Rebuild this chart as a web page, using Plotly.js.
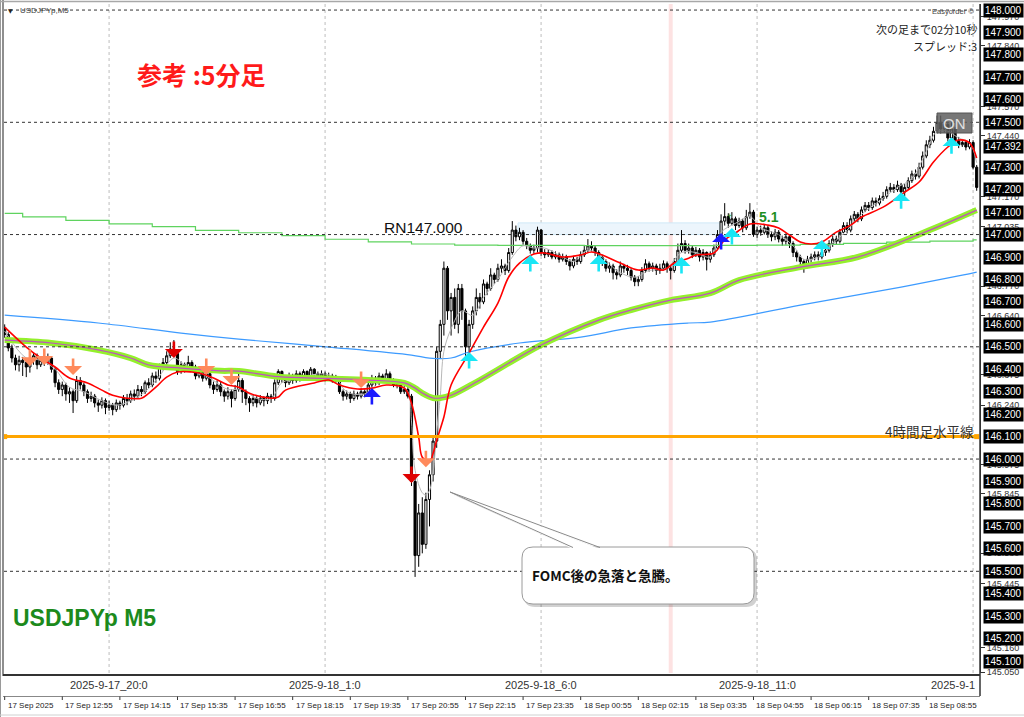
<!DOCTYPE html>
<html><head><meta charset="utf-8">
<script src="https://cdn.plot.ly/plotly-3.0.1.min.js"></script>
<style>html,body{margin:0;padding:0;background:#fff;}#c{width:1024px;height:717px;}</style>
</head><body><div id="c"></div>
<script>
// ---------- DATA ----------
const opens = [
146.585,146.555,146.495,146.450,146.420,146.440,146.430,146.410,146.440,146.460,
146.420,146.440,146.430,146.450,146.400,146.340,146.310,146.330,146.290,146.300,
146.260,146.350,146.330,146.300,146.270,146.280,146.250,146.240,146.260,146.230,
146.240,146.220,146.250,146.240,146.270,146.260,146.290,146.280,146.310,146.300,
146.340,146.330,146.370,146.360,146.410,146.430,146.460,146.490,146.470,146.390,
146.420,146.400,146.430,146.410,146.370,146.390,146.360,146.380,146.330,146.310,
146.330,146.300,146.280,146.300,146.270,146.310,146.350,146.300,146.270,146.250,
146.270,146.250,146.270,146.260,146.280,146.270,146.340,146.390,146.360,146.340,
146.370,146.350,146.380,146.360,146.390,146.370,146.400,146.380,146.370,146.380,
146.360,146.370,146.350,146.360,146.300,146.280,146.290,146.270,146.290,146.280,
146.300,146.290,146.330,146.360,146.340,146.370,146.350,146.380,146.350,146.330,
146.340,146.300,146.310,146.280,145.900,145.570,145.760,145.620,145.820,145.930,
146.080,146.480,146.600,146.850,146.660,146.720,146.600,146.760,146.660,146.500,
146.600,146.660,146.720,146.700,146.780,146.760,146.820,146.800,146.850,146.860,
146.840,146.920,147.020,146.990,147.010,146.970,146.950,146.930,146.940,147.020,
146.920,146.910,146.920,146.900,146.910,146.890,146.900,146.880,146.860,146.890,
146.880,146.910,146.930,146.950,146.940,146.920,146.900,146.880,146.850,146.860,
146.830,146.820,146.860,146.850,146.840,146.810,146.790,146.800,146.840,146.870,
146.850,146.860,146.840,146.850,146.870,146.850,146.840,146.880,146.930,146.960,
146.930,146.940,146.910,146.930,146.900,146.920,146.890,146.910,146.940,147.000,
147.060,147.080,147.050,147.070,147.040,147.060,147.030,147.080,147.100,147.000,
147.020,147.010,147.030,147.000,146.990,147.010,146.980,146.970,146.990,146.960,
146.920,146.900,146.880,146.860,146.890,146.900,146.910,146.900,146.920,146.930,
146.960,146.980,146.970,147.010,147.040,147.020,147.070,147.090,147.070,147.110,
147.130,147.120,147.150,147.140,147.160,147.170,147.200,147.210,147.200,147.220,
147.190,147.210,147.240,147.270,147.260,147.300,147.350,147.400,147.420,147.460,
147.500,147.470,147.490,147.430,147.470,147.420,147.400,147.410,147.390,147.410,
147.300];
const highs = [
146.600,146.565,146.510,146.465,146.460,146.455,146.450,146.460,146.475,146.470,
146.455,146.470,146.470,146.455,146.410,146.355,146.345,146.340,146.320,146.310,
146.370,146.365,146.340,146.310,146.300,146.290,146.265,146.275,146.270,146.260,
146.250,146.265,146.260,146.285,146.290,146.305,146.310,146.330,146.325,146.350,
146.360,146.385,146.390,146.425,146.450,146.480,146.520,146.530,146.480,146.435,
146.430,146.460,146.440,146.420,146.405,146.395,146.400,146.390,146.345,146.350,
146.345,146.310,146.320,146.310,146.330,146.385,146.360,146.310,146.280,146.285,
146.280,146.285,146.280,146.295,146.290,146.355,146.400,146.395,146.370,146.385,
146.380,146.395,146.390,146.400,146.395,146.410,146.405,146.390,146.395,146.390,
146.385,146.380,146.375,146.365,146.310,146.305,146.300,146.305,146.300,146.315,
146.310,146.345,146.375,146.370,146.385,146.380,146.400,146.390,146.360,146.355,
146.345,146.325,146.320,146.290,145.920,145.800,145.830,145.850,145.950,146.100,
146.500,146.620,146.880,146.860,146.740,146.760,146.780,146.780,146.670,146.620,
146.680,146.760,146.740,146.800,146.790,146.850,146.830,146.870,146.890,146.870,
146.940,147.060,147.040,147.030,147.020,146.985,146.960,146.955,147.035,147.025,
146.935,146.935,146.930,146.925,146.920,146.915,146.910,146.890,146.905,146.900,
146.925,146.950,146.980,146.970,146.950,146.930,146.910,146.890,146.875,146.870,
146.845,146.880,146.870,146.865,146.850,146.820,146.815,146.855,146.890,146.880,
146.875,146.870,146.870,146.885,146.880,146.860,146.895,146.960,147.020,146.975,
146.960,146.950,146.945,146.940,146.935,146.925,146.925,146.955,147.020,147.090,
147.140,147.095,147.100,147.080,147.075,147.070,147.110,147.140,147.110,147.035,
147.040,147.045,147.040,147.015,147.025,147.020,146.995,147.005,147.000,146.970,
146.930,146.910,146.890,146.905,146.915,146.925,146.925,146.935,146.950,146.975,
146.995,146.995,147.025,147.055,147.055,147.085,147.105,147.100,147.125,147.145,
147.145,147.165,147.165,147.175,147.190,147.215,147.230,147.225,147.240,147.230,
147.225,147.255,147.285,147.290,147.320,147.370,147.420,147.440,147.480,147.530,
147.530,147.510,147.500,147.500,147.480,147.435,147.425,147.420,147.425,147.420,
147.310];
const lows = [
146.540,146.480,146.430,146.395,146.390,146.370,146.365,146.385,146.420,146.400,
146.410,146.415,146.420,146.385,146.320,146.290,146.280,146.260,146.250,146.205,
146.250,146.310,146.280,146.250,146.255,146.230,146.210,146.225,146.200,146.215,
146.195,146.210,146.220,146.230,146.240,146.250,146.260,146.270,146.280,146.290,
146.315,146.320,146.340,146.350,146.395,146.420,146.450,146.455,146.375,146.380,
146.385,146.390,146.395,146.355,146.360,146.345,146.350,146.315,146.290,146.300,
146.280,146.255,146.265,146.230,146.260,146.300,146.250,146.240,146.210,146.235,
146.230,146.240,146.235,146.245,146.250,146.260,146.330,146.340,146.320,146.330,
146.335,146.340,146.345,146.350,146.355,146.360,146.365,146.355,146.360,146.345,
146.350,146.340,146.340,146.290,146.260,146.265,146.250,146.260,146.265,146.270,
146.275,146.285,146.320,146.325,146.330,146.340,146.345,146.340,146.320,146.315,
146.290,146.290,146.270,145.880,145.475,145.520,145.580,145.600,145.700,145.900,
146.050,146.450,146.550,146.620,146.550,146.580,146.560,146.620,146.460,146.470,
146.580,146.640,146.670,146.690,146.730,146.750,146.780,146.790,146.830,146.820,
146.830,146.910,146.970,146.975,146.955,146.935,146.915,146.915,146.920,146.905,
146.895,146.900,146.890,146.890,146.875,146.880,146.865,146.840,146.850,146.865,
146.870,146.900,146.920,146.925,146.905,146.880,146.860,146.835,146.830,146.800,
146.800,146.810,146.830,146.820,146.795,146.770,146.770,146.790,146.830,146.835,
146.835,146.820,146.825,146.840,146.830,146.800,146.830,146.870,146.920,146.915,
146.915,146.895,146.900,146.880,146.885,146.840,146.875,146.900,146.930,146.990,
147.040,147.030,147.040,147.020,147.030,147.010,147.020,147.070,146.990,146.985,
146.995,147.000,146.985,146.970,146.975,146.965,146.950,146.955,146.940,146.900,
146.880,146.860,146.830,146.850,146.875,146.885,146.885,146.890,146.905,146.920,
146.945,146.955,146.960,147.000,147.005,147.010,147.055,147.055,147.060,147.100,
147.105,147.110,147.125,147.130,147.150,147.160,147.190,147.185,147.190,147.150,
147.170,147.200,147.230,147.245,147.250,147.290,147.340,147.385,147.410,147.450,
147.450,147.455,147.415,147.420,147.400,147.385,147.390,147.375,147.380,147.290,
147.195];
const closes = [
146.555,146.495,146.450,146.420,146.440,146.430,146.410,146.440,146.460,146.420,
146.440,146.430,146.450,146.400,146.340,146.310,146.330,146.290,146.300,146.260,
146.350,146.330,146.300,146.270,146.280,146.250,146.240,146.260,146.230,146.240,
146.220,146.250,146.240,146.270,146.260,146.290,146.280,146.310,146.300,146.340,
146.330,146.370,146.360,146.410,146.430,146.460,146.490,146.470,146.390,146.420,
146.400,146.430,146.410,146.370,146.390,146.360,146.380,146.330,146.310,146.330,
146.300,146.280,146.300,146.270,146.310,146.350,146.300,146.270,146.250,146.270,
146.250,146.270,146.260,146.280,146.270,146.340,146.390,146.360,146.340,146.370,
146.350,146.380,146.360,146.390,146.370,146.400,146.380,146.370,146.380,146.360,
146.370,146.350,146.360,146.300,146.280,146.290,146.270,146.290,146.280,146.300,
146.290,146.330,146.360,146.340,146.370,146.350,146.380,146.350,146.330,146.340,
146.300,146.310,146.280,145.900,145.570,145.760,145.620,145.820,145.930,146.080,
146.480,146.600,146.850,146.660,146.720,146.600,146.760,146.660,146.500,146.600,
146.660,146.720,146.700,146.780,146.760,146.820,146.800,146.850,146.860,146.840,
146.920,147.020,146.990,147.010,146.970,146.950,146.930,146.940,147.020,146.920,
146.910,146.920,146.900,146.910,146.890,146.900,146.880,146.860,146.890,146.880,
146.910,146.930,146.950,146.940,146.920,146.900,146.880,146.850,146.860,146.830,
146.820,146.860,146.850,146.840,146.810,146.790,146.800,146.840,146.870,146.850,
146.860,146.840,146.850,146.870,146.850,146.840,146.880,146.930,146.960,146.930,
146.940,146.910,146.930,146.900,146.920,146.890,146.910,146.940,147.000,147.060,
147.080,147.050,147.070,147.040,147.060,147.030,147.080,147.100,147.000,147.020,
147.010,147.030,147.000,146.990,147.010,146.980,146.970,146.990,146.960,146.920,
146.900,146.880,146.860,146.890,146.900,146.910,146.900,146.920,146.930,146.960,
146.980,146.970,147.010,147.040,147.020,147.070,147.090,147.070,147.110,147.130,
147.120,147.150,147.140,147.160,147.170,147.200,147.210,147.200,147.220,147.190,
147.210,147.240,147.270,147.260,147.300,147.350,147.400,147.420,147.460,147.500,
147.470,147.490,147.430,147.470,147.420,147.400,147.410,147.390,147.410,147.300,
147.210];

// moving averages (sampled at candle indices)
const redIdx = [0,6,10,14,18,23,27,30,34,38,40,42,45,48,52,54,58,62,65,68,74,76,78,86,90,93,98,102,106,111,113,115,116,118,119,120,122,124,129,133,137,140,143,147,150,155,160,163,166,171,176,180,183,186,190,192,197,200,203,207,212,215,218,221,224,227,231,235,238,244,250,254,258,262,265,268,270];
const redVal = [146.588,146.499,146.450,146.410,146.361,146.339,146.307,146.284,146.271,146.271,146.293,146.320,146.365,146.388,146.388,146.383,146.361,146.330,146.320,146.293,146.271,146.276,146.307,146.339,146.352,146.330,146.312,146.316,146.330,146.316,146.249,146.098,146.008,145.986,146.026,146.084,146.187,146.330,146.472,146.588,146.695,146.811,146.873,146.913,146.918,146.900,146.909,146.922,146.909,146.873,146.842,146.851,146.842,146.873,146.895,146.909,146.918,146.976,147.007,147.047,147.042,147.029,146.998,146.967,146.958,146.967,147.011,147.042,147.078,147.122,147.189,147.234,147.323,147.390,147.421,147.408,147.341];
const grayIdx = [0,6,10,14,18,22,27,31,35,39,43,47,50,54,58,62,66,70,74,77,82,88,92,95,100,104,108,112,113,114,116,117,118,119,120,121,122,124,127,130,133,137,141,144,147,150,155,158,162,166,170,175,179,184,188,192,196,199,203,207,210,215,219,222,226,230,234,238,243,248,252,256,259,262,265,268,270];
const grayVal = [146.57,146.45,146.44,146.40,146.32,146.30,146.26,146.24,146.26,146.30,146.37,146.45,146.42,146.39,146.35,146.31,146.31,146.27,146.27,146.34,146.36,146.38,146.36,146.30,146.29,146.34,146.35,146.30,146.17,145.95,145.85,145.84,145.86,145.94,146.12,146.28,146.48,146.58,146.66,146.64,146.72,146.80,146.90,146.95,146.94,146.94,146.90,146.88,146.93,146.90,146.84,146.81,146.84,146.85,146.92,146.92,146.90,147.01,147.05,147.08,147.03,147.00,146.95,146.89,146.90,146.96,147.02,147.09,147.15,147.21,147.25,147.37,147.46,147.46,147.43,147.41,147.32];
const blueIdx = [0,26,49,65,90,113,118,124,129,143,160,174,190,196,221,249,266,270];
const blueVal = [146.641,146.606,146.561,146.534,146.499,146.463,146.450,146.450,146.477,146.517,146.543,146.584,146.606,146.610,146.686,146.766,146.819,146.833];
const limeIdx = [0,13,26,35,40,49,60,65,76,90,101,111,114,116,119,121,124,132,149,165,174,185,196,204,221,237,255,270];
const limeVal = [146.530,146.517,146.486,146.450,146.419,146.405,146.393,146.392,146.367,146.359,146.352,146.339,146.316,146.294,146.272,146.272,146.284,146.352,146.508,146.619,146.664,146.708,146.739,146.797,146.855,146.900,147.007,147.109];
const h1Idx = [0,5,17,29,41,53,65,77,89,101,113,125,137,149,161,173,185,197,209,221,233,245,257,269,270];
const h1Val = [147.094,147.079,147.063,147.048,147.035,147.019,147.008,146.995,146.979,146.967,146.958,146.953,146.952,146.952,146.951,146.951,146.951,146.952,146.953,146.956,146.961,146.966,146.971,146.976,146.976];

// signal arrows
const salmonDownIdx = [7,11,19,56,63,99,117];
const salmonDownVal = [146.414,146.419,146.374,146.374,146.330,146.316,145.964];
const redDownIdx = [47,113];
const redDownVal = [146.450,145.893];
const blueUpIdx = [102,199];
const blueUpVal = [146.316,147.007];
const cyanUpIdx = [129,146,165,188,202,227,249,263];
const cyanUpVal = [146.477,146.909,146.909,146.900,147.029,146.976,147.189,147.434];

// levels
const dashedLevels = [148.0,147.5,147.0,146.5,146.0,145.5];
const orangeLevel = 146.1;
const boxPrices = [148.0,147.9,147.8,147.7,147.6,147.5,147.3,147.2,147.1,147.0,146.9,146.8,146.7,146.6,146.5,146.4,146.3,146.2,146.1,146.0,145.9,145.8,145.7,145.6,145.5,145.4,145.3,145.2,145.1];
const currentPrice = 147.392;
const axisTicks = [147.970,147.840,147.570,147.440,147.170,147.035,146.770,146.640,146.375,146.240,145.975,145.845,145.580,145.445,145.160,145.050];
const timeTickIdx = [0,16,32,48,64,80,96,112,128,144,160,176,192,208,224,240,256];
const timeTickText = ['17 Sep 2025','17 Sep 12:55','17 Sep 14:15','17 Sep 15:35','17 Sep 16:55','17 Sep 18:15','17 Sep 19:35','17 Sep 20:55','17 Sep 22:15','17 Sep 23:35','18 Sep 00:55','18 Sep 02:15','18 Sep 03:35','18 Sep 04:55','18 Sep 06:15','18 Sep 07:35','18 Sep 08:55'];
const sessionIdx = [29,89,149,209,269];
const sessionText = ['2025-9-17_20:0','2025-9-18_1:0','2025-9-18_6:0','2025-9-18_11:0','2025-9-1'];
const pinkIdx = 185;
const zoneIdx = [142.6,198.7];
const zonePrice = [147.0,147.052];

// ---------- LAYOUT HELPERS ----------
const PL=4, PR=980, PT=4, PB=673;
const XR=[-0.19,270.92], YR=[145.047,148.027];
const px = x => (x-PL)/(PR-PL);
const py = y => (PB-y)/(PB-PT);
const ix = i => (i-XR[0])/(XR[1]-XR[0]);
const xIdx = closes.map((_,i)=>i);
function rr(x0,y0,x1,y1,r){
  const P=(x,y)=>px(x)+','+py(y);
  return 'M'+P(x0+r,y0)+' L'+P(x1-r,y0)+' Q'+P(x1,y0)+' '+P(x1,y0+r)+' L'+P(x1,y1-r)+' Q'+P(x1,y1)+' '+P(x1-r,y1)+
    ' L'+P(x0+r,y1)+' Q'+P(x0,y1)+' '+P(x0,y1-r)+' L'+P(x0,y0+r)+' Q'+P(x0,y0)+' '+P(x0+r,y0)+' Z';
}
function poly(pts){return 'M'+pts.map(p=>px(p[0])+','+py(p[1])).join(' L')+' Z';}

const traces = [];
traces.push({type:'scatter',mode:'lines',x:h1Idx,y:h1Val,line:{color:'#5fd35f',width:1.2,shape:'hv'},hoverinfo:'skip'});
traces.push({type:'scatter',mode:'lines',x:blueIdx,y:blueVal,line:{color:'#3d9bff',width:1.2,shape:'spline'},hoverinfo:'skip'});
traces.push({type:'candlestick',x:xIdx,open:opens,high:highs,low:lows,close:closes,whiskerwidth:0,
  increasing:{line:{color:'#000',width:1},fillcolor:'#ffffff'},
  decreasing:{line:{color:'#000',width:1},fillcolor:'#000000'},hoverinfo:'skip'});
traces.push({type:'scatter',mode:'lines',x:grayIdx,y:grayVal,line:{color:'#b8b8b8',width:1,shape:'spline'},hoverinfo:'skip'});
traces.push({type:'scatter',mode:'lines',x:limeIdx,y:limeVal,line:{color:'#94f02c',width:6,shape:'spline'},hoverinfo:'skip'});
traces.push({type:'scatter',mode:'lines',x:limeIdx,y:limeVal,line:{color:'#c050c0',width:1.2,shape:'spline'},hoverinfo:'skip'});
traces.push({type:'scatter',mode:'lines',x:redIdx,y:redVal,line:{color:'#ff0000',width:1.6,shape:'spline'},hoverinfo:'skip'});
traces.push({type:'scatter',mode:'lines+markers',x:[0,270],y:[orangeLevel,orangeLevel],line:{color:'#ffa500',width:3},marker:{symbol:'square',size:5,color:'#ffa500'},hoverinfo:'skip'});

const shapes = [];
shapes.push({type:'rect',xref:'x',yref:'paper',x0:pinkIdx-0.55,x1:pinkIdx+0.55,y0:0,y1:1,fillcolor:'#fde2e2',line:{width:0},layer:'below'});
sessionIdx.forEach(i=>shapes.push({type:'line',xref:'x',yref:'paper',x0:i,x1:i,y0:0,y1:1,line:{color:'#bdbdbd',width:1,dash:'3px,3px'},layer:'below'}));
shapes.push({type:'rect',xref:'x',yref:'y',x0:zoneIdx[0],x1:zoneIdx[1],y0:zonePrice[0],y1:zonePrice[1],fillcolor:'#ecf5fc',line:{color:'#cfe8f7',width:1},layer:'below'});
dashedLevels.forEach(p=>shapes.push({type:'line',xref:'paper',yref:'y',x0:0,x1:1,y0:p,y1:p,line:{color:'#333',width:1,dash:'3px,3px'}}));
shapes.push({type:'line',xref:'paper',yref:'paper',x0:px(0.5),x1:px(0.5),y0:py(0),y1:py(717),line:{color:'#9a9a9a',width:1}});
shapes.push({type:'line',xref:'paper',yref:'paper',x0:px(3),x1:px(3),y0:py(0),y1:py(676),line:{color:'#6a6a6a',width:1.5}});
shapes.push({type:'line',xref:'paper',yref:'paper',x0:px(0),x1:px(1024),y0:py(1.5),y1:py(1.5),line:{color:'#a8a8a8',width:1.5}});
shapes.push({type:'line',xref:'paper',yref:'paper',x0:px(3),x1:px(980),y0:py(675),y1:py(675),line:{color:'#333',width:2}});
shapes.push({type:'line',xref:'paper',yref:'paper',x0:px(3),x1:px(980),y0:py(696.5),y1:py(696.5),line:{color:'#888',width:1}});
shapes.push({type:'line',xref:'paper',yref:'paper',x0:px(0),x1:px(1024),y0:py(715),y1:py(715),line:{color:'#d0d0d0',width:1}});
shapes.push({type:'line',xref:'paper',yref:'paper',x0:px(980),x1:px(980),y0:py(4),y1:py(696),line:{color:'#333',width:1.5}});
timeTickIdx.forEach(i=>shapes.push({type:'line',xref:'paper',yref:'paper',x0:ix(i),x1:ix(i),y0:py(696.5),y1:py(700),line:{color:'#333',width:1}}));
shapes.push({type:'rect',xref:'paper',yref:'paper',x0:px(937),x1:px(972),y0:py(113),y1:py(133),fillcolor:'rgba(95,95,95,0.85)',line:{color:'#555',width:1}});
shapes.push({type:'path',xref:'paper',yref:'paper',path:poly([[452,494],[603,550],[576,550]]),fillcolor:'rgba(0,0,0,0.18)',line:{width:0}});
shapes.push({type:'path',xref:'paper',yref:'paper',path:rr(524,549,757,607,11),fillcolor:'rgba(0,0,0,0.18)',line:{width:0}});
shapes.push({type:'path',xref:'paper',yref:'paper',path:rr(522,547,754,604,11),fillcolor:'#ffffff',line:{color:'#9a9a9a',width:1}});
shapes.push({type:'path',xref:'paper',yref:'paper',path:poly([[450,492],[600,549],[573,549]]),fillcolor:'#ffffff',line:{width:0}});
shapes.push({type:'line',xref:'paper',yref:'paper',x0:px(450),y0:py(492),x1:px(600),y1:py(547.5),line:{color:'#8a8a8a',width:1}});
shapes.push({type:'line',xref:'paper',yref:'paper',x0:px(450),y0:py(492),x1:px(573),y1:py(547.5),line:{color:'#8a8a8a',width:1}});

const ann = [];
const CJK = 'Noto Sans CJK JP';
const SANS = 'Liberation Sans';
function arrow(i,p,color,dir){
  ann.push({x:i,y:p,xref:'x',yref:'y',text:'',showarrow:true,arrowhead:1,arrowsize:1.15,arrowwidth:2.6,arrowcolor:color,ax:0,ay:dir==='down'?-18:18,standoff:0});
}
salmonDownIdx.forEach((i,k)=>arrow(i,salmonDownVal[k],'#ff8a5c','down'));
redDownIdx.forEach((i,k)=>arrow(i,redDownVal[k],'#e00000','down'));
blueUpIdx.forEach((i,k)=>arrow(i,blueUpVal[k],'#1a1aff','up'));
cyanUpIdx.forEach((i,k)=>arrow(i,cyanUpVal[k],'#19e6f5','up'));

boxPrices.forEach(p=>ann.push({x:px(1003),y:p,xref:'paper',yref:'y',text:p.toFixed(3),showarrow:false,
  font:{family:SANS,size:10,color:'#fff'},bgcolor:'#000',borderpad:1,xanchor:'center',yanchor:'middle'}));
ann.push({x:px(1003),y:currentPrice,xref:'paper',yref:'y',text:currentPrice.toFixed(3),showarrow:false,
  font:{family:SANS,size:10,color:'#fff'},bgcolor:'#000',borderpad:1,xanchor:'center',yanchor:'middle'});
timeTickIdx.forEach((i,k)=>ann.push({x:ix(i)+px(5)-px(4),y:py(705),xref:'paper',yref:'paper',text:timeTickText[k],showarrow:false,
  font:{family:SANS,size:8,color:'#222'},xanchor:'left',yanchor:'middle'}));
sessionIdx.forEach((i,k)=>{
  const last = k===sessionIdx.length-1;
  ann.push({x:last?px(977):ix(i),y:py(685),xref:'paper',yref:'paper',text:sessionText[k],showarrow:false,
    font:{family:SANS,size:11,color:'#333'},xanchor:last?'right':'center',yanchor:'middle'});
});
ann.push({x:px(135),y:py(74),xref:'paper',yref:'paper',text:'<b>参考 :5分足</b>',showarrow:false,font:{family:CJK,size:25,color:'#ff1a1a'},xanchor:'left',yanchor:'middle'});
ann.push({x:px(11),y:py(618),xref:'paper',yref:'paper',text:'<b>USDJPYp M5</b>',showarrow:false,font:{family:SANS,size:23,color:'#1c8a1c'},xanchor:'left',yanchor:'middle'});
ann.push({x:px(382),y:py(227),xref:'paper',yref:'paper',text:'RN147.000',showarrow:false,font:{family:SANS,size:15.5,color:'#111'},xanchor:'left',yanchor:'middle'});
ann.push({x:px(976),y:py(431),xref:'paper',yref:'paper',text:'4時間足水平線',showarrow:false,font:{family:CJK,size:13.5,color:'#333'},xanchor:'right',yanchor:'middle'});
ann.push({x:px(530),y:py(575),xref:'paper',yref:'paper',text:'<b>FOMC後の急落と急騰。</b>',showarrow:false,font:{family:CJK,size:13.5,color:'#111'},xanchor:'left',yanchor:'middle'});
ann.push({x:px(954.5),y:py(123),xref:'paper',yref:'paper',text:'ON',showarrow:false,font:{family:SANS,size:15,color:'#e0e0e0'},xanchor:'center',yanchor:'middle'});
ann.push({x:px(757),y:py(217),xref:'paper',yref:'paper',text:'<b>5.1</b>',showarrow:false,font:{family:SANS,size:14,color:'#1f8f1f'},xanchor:'left',yanchor:'middle'});
ann.push({x:px(729),y:py(216),xref:'paper',yref:'paper',text:'+',showarrow:false,font:{family:SANS,size:9,color:'#1f8f1f'},xanchor:'center',yanchor:'middle'});
ann.push({x:px(18),y:py(11),xref:'paper',yref:'paper',text:'USDJPYp,M5',showarrow:false,font:{family:SANS,size:8,color:'#444'},xanchor:'left',yanchor:'middle'});
ann.push({x:px(10),y:py(11),xref:'paper',yref:'paper',text:'▼',showarrow:false,font:{family:'DejaVu Sans',size:6,color:'#222'},xanchor:'center',yanchor:'middle'});
ann.push({x:px(976),y:py(12),xref:'paper',yref:'paper',text:'Easyorder ©',showarrow:false,font:{family:SANS,size:7.5,color:'#444'},xanchor:'right',yanchor:'middle'});
ann.push({x:px(979),y:py(29),xref:'paper',yref:'paper',text:'次の足まで02分10秒',showarrow:false,font:{family:CJK,size:11,color:'#222'},xanchor:'right',yanchor:'middle'});
ann.push({x:px(979),y:py(46),xref:'paper',yref:'paper',text:'スプレッド:3',showarrow:false,font:{family:CJK,size:11,color:'#222'},xanchor:'right',yanchor:'middle'});

const layout = {
  width:1024,height:717,margin:{l:PL,r:1024-PR,t:PT,b:717-PB},
  paper_bgcolor:'#ffffff',plot_bgcolor:'#ffffff',showlegend:false,hovermode:false,dragmode:false,
  boxgap:0.15,
  xaxis:{range:XR,showgrid:false,zeroline:false,showticklabels:false,ticks:'',showline:false,rangeslider:{visible:false},fixedrange:true},
  yaxis:{range:YR,side:'right',showgrid:false,zeroline:false,showline:true,linecolor:'#333',linewidth:1,
    tickvals:axisTicks,ticktext:axisTicks.map(v=>v.toFixed(3)),ticks:'outside',ticklen:4,tickcolor:'#333',
    tickfont:{family:SANS,size:9,color:'#333'},fixedrange:true},
  shapes:shapes,annotations:ann,font:{family:SANS}
};
Plotly.newPlot('c',traces,layout,{staticPlot:true,displayModeBar:false});
</script></body></html>
